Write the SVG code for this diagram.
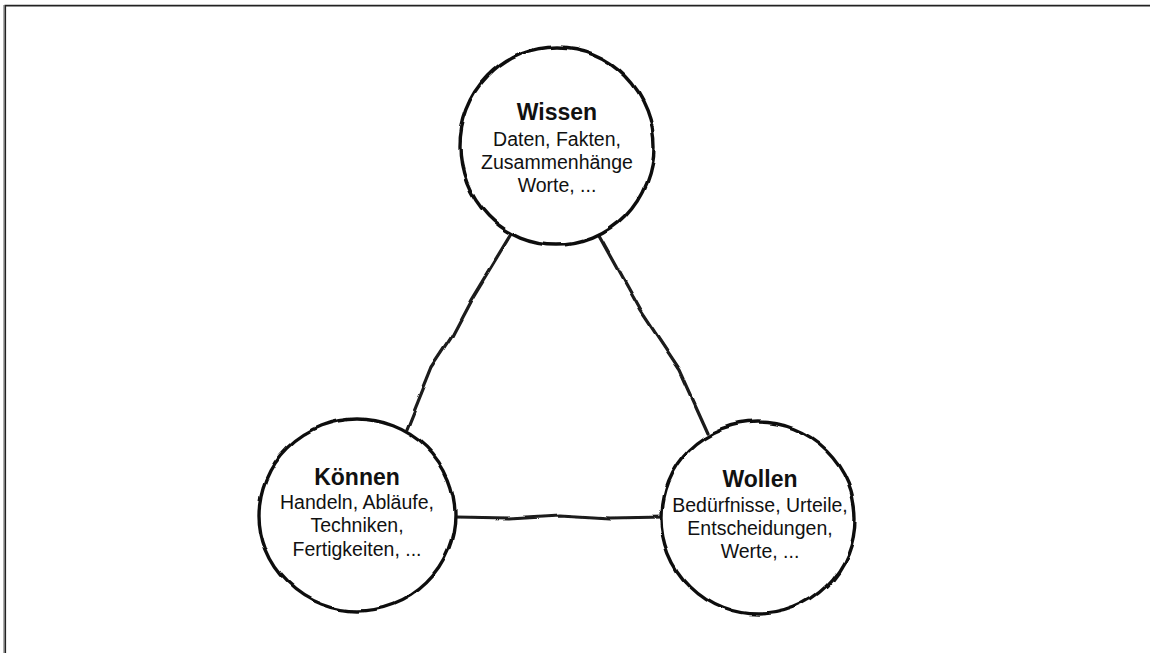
<svg xmlns="http://www.w3.org/2000/svg" width="1150" height="653" viewBox="0 0 1150 653">
  <defs>
    <!-- slight hand-drawn wobble for outlines and links -->
    <filter id="rough" x="-10%" y="-10%" width="120%" height="120%">
      <feTurbulence type="fractalNoise" baseFrequency="0.022" numOctaves="2" seed="7" result="noise"/>
      <feDisplacementMap in="SourceGraphic" in2="noise" scale="6" xChannelSelector="R" yChannelSelector="G"/>
    </filter>
    <style>
      .ring { fill: #ffffff; stroke: #111; stroke-width: 3.4; }
      .link { fill: none; stroke: #1a1a1a; stroke-width: 3.2; stroke-linecap: round; }
      .title { font-family: "Liberation Sans", Arial, sans-serif; font-weight: bold; font-size: 23px; fill: #111; text-anchor: middle; }
      .body { font-family: "Liberation Sans", Arial, sans-serif; font-size: 19.5px; fill: #111; text-anchor: middle; }
    </style>
  </defs>

  <rect width="1150" height="653" fill="#ffffff"/>

  <!-- frame: top and left edges -->
  <path d="M3.8,653 V5" stroke="#9a9a9a" stroke-width="1.2" fill="none"/>
  <path d="M5.3,653 V5.6 H1150" stroke="#222" stroke-width="1.6" fill="none"/>

  <!-- connectors -->
  <g id="connectors" filter="url(#rough)">
    <path class="link" d="M512,234 L472,300 L452,338 L432,368 L407,430"/>
    <path class="link" d="M599,236 L640,310 L680,370 L708,432"/>
    <path class="link" d="M455,517 L510,518 L560,515 L610,518 L664,517"/>
  </g>

  <!-- Wissen -->
  <g id="node-wissen">
    <ellipse class="ring" cx="557" cy="146" rx="97" ry="99" filter="url(#rough)"/>
    <text class="title" x="557" y="120">Wissen</text>
    <text class="body" x="557" y="146">Daten, Fakten,</text>
    <text class="body" x="557" y="169">Zusammenhänge</text>
    <text class="body" x="557" y="192">Worte, ...</text>
  </g>

  <!-- Können -->
  <g id="node-koennen">
    <ellipse class="ring" cx="357" cy="515" rx="98" ry="96" filter="url(#rough)"/>
    <text class="title" x="357" y="485">Können</text>
    <text class="body" x="357" y="509">Handeln, Abläufe,</text>
    <text class="body" x="357" y="532">Techniken,</text>
    <text class="body" x="357" y="556">Fertigkeiten, ...</text>
  </g>

  <!-- Wollen -->
  <g id="node-wollen">
    <ellipse class="ring" cx="758" cy="518" rx="97" ry="96" filter="url(#rough)"/>
    <text class="title" x="760" y="487">Wollen</text>
    <text class="body" x="760" y="512">Bedürfnisse, Urteile,</text>
    <text class="body" x="760" y="535">Entscheidungen,</text>
    <text class="body" x="760" y="558">Werte, ...</text>
  </g>
</svg>
